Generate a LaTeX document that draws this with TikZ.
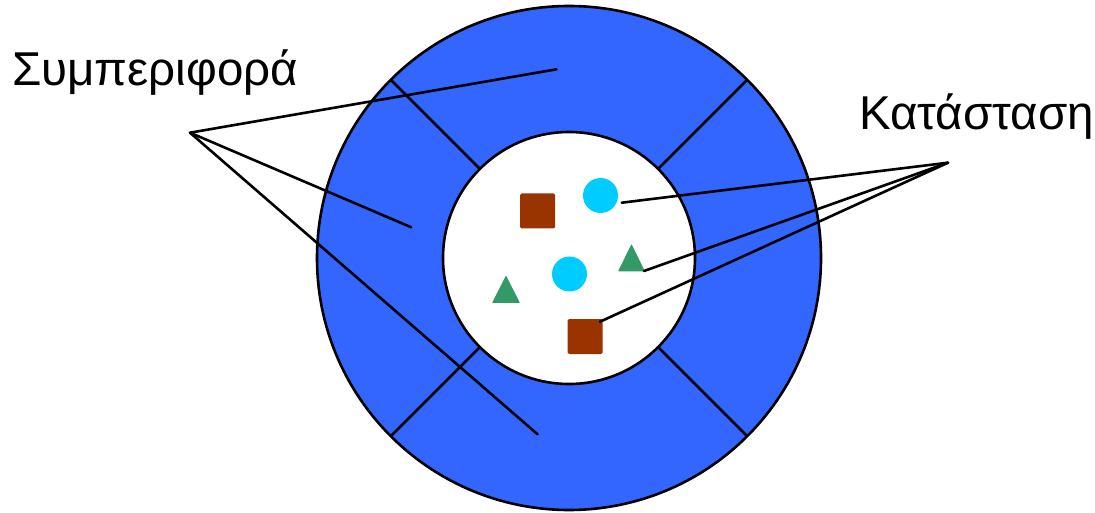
\documentclass[tikz,border=0pt]{standalone}
\usepackage{fontspec}
\setmainfont{Liberation Sans}
\usetikzlibrary{positioning,calc}
\definecolor{ringblue}{HTML}{3366FF}
\definecolor{objbrown}{HTML}{993300}
\definecolor{objcyan}{HTML}{00CCFF}
\definecolor{objgreen}{HTML}{339966}

\begin{document}
\begin{tikzpicture}[x=1pt,y=1pt,
  edge/.style={line width=2.6pt},
  sqobj/.style={fill=objbrown,minimum size=35pt,inner sep=0pt,rounded corners=1.5pt},
  ciobj/.style={circle,fill=objcyan,minimum size=35pt,inner sep=0pt},
  lbl/.style={font=\fontsize{47.5}{52}\selectfont,inner sep=0pt}]
\useasboundingbox (0,0) rectangle (1095,512);
\coordinate (C) at (569,254);
% behaviour ring, four sectors
\filldraw[fill=ringblue,line width=2.6pt] (C) circle (252);
\filldraw[fill=white,line width=2.6pt] (C) circle (126);
\foreach \a in {45,135,225,315}
  \draw[edge] ([shift={(C)}]\a:126) -- ([shift={(C)}]\a:252);
% state objects in the core
\node[sqobj] (sq1) at (537.5,301) {};
\node[sqobj] (sq2) at (585,175.5) {};
\node[ciobj] (ci1) at (600.5,316.5) {};
\node[ciobj] (ci2) at (569.5,238) {};
\fill[objgreen,rounded corners=0.8pt] (618,240.5) -- (631.5,268) -- (645,240.5) -- cycle;
\fill[objgreen,rounded corners=0.8pt] (492,209) -- (506,236.5) -- (520,209) -- cycle;
% labels
\node[lbl,anchor=base west] (beh) at (12,426) {Συμπεριφορά};
\node[lbl,anchor=base west] (st) at (859,382) {Κατάσταση};
\coordinate (behhub) at (190,379.3);
\coordinate (sthub) at (948,349.3);
\coordinate (b1) at (556.5,442.7);
\coordinate (b2) at (411.2,284.7);
\coordinate (b3) at (537.6,77.7);
\coordinate (s1) at (621.7,309.3);
\coordinate (s2) at (644,241);
\coordinate (s3) at (600,190.3);
% pointers
\foreach \e in {b1,b2,b3}
  \draw[edge,line cap=round] (behhub) -- (\e);
\foreach \e in {s1,s2,s3}
  \draw[edge,line cap=round] (sthub) -- (\e);
\end{tikzpicture}
\end{document}
